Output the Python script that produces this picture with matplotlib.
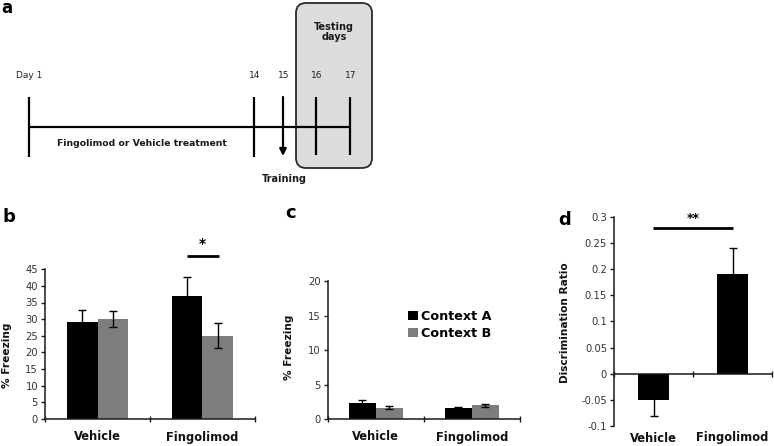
import matplotlib
matplotlib.use('Agg')
import matplotlib.pyplot as plt
import numpy as np
import matplotlib.transforms as mtrans
from matplotlib.patches import FancyBboxPatch, Patch

plt.rcParams['font.family'] = ['DejaVu Sans']

# ---------------- data ----------------
groups = ['Vehicle', 'Fingolimod']
contexts = ['Context A', 'Context B']

b_ctxA = [29, 37]
b_ctxA_err = [3.6, 5.6]
b_ctxB = [30, 25]
b_ctxB_err = [2.3, 3.7]

c_ctxA = [2.4, 1.7]
c_ctxA_err = [0.4, 0.1]
c_ctxB = [1.7, 2.0]
c_ctxB_err = [0.2, 0.2]

d_ratio = [-0.05, 0.19]
d_err = [0.03, 0.05]

b_yticks = [0, 5, 10, 15, 20, 25, 30, 35, 40, 45]
c_yticks = [0, 5, 10, 15, 20]
d_yticks = [-0.1, -0.05, 0, 0.05, 0.1, 0.15, 0.2, 0.25, 0.3]
d_yticklabels = ['-0.1', '-0.05', '0', '0.05', '0.1', '0.15', '0.2', '0.25', '0.3']

timeline_labels = ['Day 1', '14', '15', '16', '17']

# ---------------- layout ----------------
W, H = 774, 446
fig = plt.figure(figsize=(W / 100, H / 100), dpi=100)

ov = fig.add_axes([0, 0, 1, 1])
ov.set_xlim(0, W)
ov.set_ylim(H, 0)
ov.axis('off')


def px_rect(l, t, r, b):
    return [l / W, 1 - b / H, (r - l) / W, (b - t) / H]


axb = fig.add_axes(px_rect(45, 269.3, 255, 418.7))
axc = fig.add_axes(px_rect(327.7, 281, 520, 419.3))
axd = fig.add_axes(px_rect(614, 216.7, 772, 426))

AXC = '#1a1a1a'
TICKC = '#333333'
GRAY = '#7d7d7d'


def style(ax):
    for s in ['top', 'right']:
        ax.spines[s].set_visible(False)
    for s in ['left', 'bottom']:
        ax.spines[s].set_linewidth(1.1)
        ax.spines[s].set_color(AXC)
    ax.tick_params(axis='y', direction='out', length=3, width=1.0,
                   color=AXC, labelsize=7.2, labelcolor=TICKC, pad=2)
    ax.tick_params(axis='x', direction='inout', length=5, width=1.0,
                   color=AXC, labelbottom=False)
    ax.set_xlim(0, len(groups))
    ax.set_xticks(np.arange(len(groups) + 1))
    ax.patch.set_alpha(0)


for ax in (axb, axc, axd):
    style(ax)

x = np.arange(len(groups)) + 0.5

# ---------------- panel b ----------------
wb = 0.286
axb.bar(x - wb / 2, b_ctxA, wb, color='black', zorder=2)
axb.bar(x + wb / 2, b_ctxB, wb, color=GRAY, zorder=2)
axb.errorbar(x - wb / 2, b_ctxA, yerr=b_ctxA_err, fmt='none', ecolor='black',
             elinewidth=1, capsize=2.6, capthick=1, zorder=3)
axb.errorbar(x + wb / 2, b_ctxB, yerr=b_ctxB_err, fmt='none', ecolor='black',
             elinewidth=1, capsize=2.6, capthick=1, zorder=3)
axb.set_ylim(0, 45)
axb.set_yticks(b_yticks)
axb.plot([x[1] - 0.148, x[1] + 0.157], [49, 49], color='black', lw=2,
         clip_on=False, solid_capstyle='butt')
axb.text(x[1], 50.6, '*', ha='center', va='bottom', fontsize=10,
         fontweight='bold', clip_on=False)

# ---------------- panel c ----------------
wc = 0.28
axc.bar(x - wc / 2, c_ctxA, wc, color='black', zorder=2)
axc.bar(x + wc / 2, c_ctxB, wc, color=GRAY, zorder=2)
axc.errorbar(x - wc / 2, c_ctxA, yerr=c_ctxA_err, fmt='none', ecolor='black',
             elinewidth=1, capsize=2.6, capthick=1, zorder=3)
axc.errorbar(x + wc / 2, c_ctxB, yerr=c_ctxB_err, fmt='none', ecolor='black',
             elinewidth=1, capsize=2.6, capthick=1, zorder=3)
axc.set_ylim(0, 20)
axc.set_yticks(c_yticks)
handles = [Patch(facecolor='black', edgecolor='none'),
           Patch(facecolor=GRAY, edgecolor='none')]
axc.legend(handles, contexts, loc='upper left', bbox_to_anchor=(0.42, 0.79),
           frameon=False, handlelength=0.75, handleheight=0.75,
           handletextpad=0.2, labelspacing=0.3, borderpad=0,
           borderaxespad=0, prop={'weight': 'bold', 'size': 9.2})

# ---------------- panel d ----------------
wd = 0.405
axd.bar(x, d_ratio, wd, color='black', zorder=2)
axd.errorbar(x, d_ratio, yerr=d_err, fmt='none', ecolor='black',
             elinewidth=1, capsize=2.6, capthick=1, zorder=3)
axd.set_ylim(-0.1, 0.3)
axd.set_yticks(d_yticks)
axd.set_yticklabels(d_yticklabels)
axd.spines['bottom'].set_position(('data', 0))
axd.plot([x[0] - 0.01, x[1] + 0.006], [0.279, 0.279], color='black', lw=2,
         clip_on=False, solid_capstyle='butt')
axd.text(np.mean(x), 0.284, '**', ha='center', va='bottom', fontsize=9,
         fontweight='bold', clip_on=False)

# category labels
for ax, ypx in ((axb, 437), (axc, 437), (axd, 438)):
    tr = mtrans.blended_transform_factory(ax.transData, fig.transFigure)
    for xi, g in zip(x, groups):
        ax.text(xi, 1 - ypx / H, g, transform=tr, ha='center', va='center',
                fontsize=8.3, fontweight='bold', color='#111111')

# y labels
ov.text(7, 355, '% Freezing', rotation=90, ha='center', va='center',
        fontsize=7.6, fontweight='bold', color='#111111')
ov.text(289, 347, '% Freezing', rotation=90, ha='center', va='center',
        fontsize=7.6, fontweight='bold', color='#111111')
ov.text(565, 323, 'Discrimination Ratio', rotation=90, ha='center',
        va='center', fontsize=7.6, fontweight='bold', color='#111111')

# panel letters
for lx, ly, s, fs in ((1, 13, 'a', 12), (2, 222, 'b', 13),
                      (285, 218, 'c', 13), (558, 225, 'd', 13)):
    ov.text(lx, ly, s, ha='left', va='baseline', fontsize=fs,
            fontweight='bold', color='black')

# ---------------- panel a (schematic timeline) ----------------
tl_x = [29, 254, 283, 316, 350]
box = FancyBboxPatch((296, 3), 76, 165,
                     boxstyle='round,pad=0,rounding_size=10',
                     facecolor='#dcdcdc', edgecolor='#2a2a2a', lw=1.3,
                     zorder=1)
ov.add_patch(box)
ov.text(334, 27, 'Testing', ha='center', va='center', fontsize=7,
        fontweight='bold', color='#1a1a1a')
ov.text(334, 37.5, 'days', ha='center', va='center', fontsize=7,
        fontweight='bold', color='#1a1a1a')

ov.plot([tl_x[0], tl_x[-1]], [127, 127], color='black', lw=1.6, zorder=2,
        solid_capstyle='butt')
for i, (xx, lab) in enumerate(zip(tl_x, timeline_labels)):
    ov.text(xx + (1 if i else 0), 75, lab, ha='center', va='center',
            fontsize=6.5, color='#222222')
    if i == 2:
        ov.annotate('', xy=(xx, 156), xytext=(xx, 97),
                    arrowprops=dict(arrowstyle='-|>', color='black', lw=1.6,
                                    mutation_scale=10, shrinkA=0, shrinkB=0),
                    zorder=3)
    else:
        bot = 157 if i < 2 else 155
        ov.plot([xx, xx], [97, bot], color='black', lw=1.6, zorder=2,
                solid_capstyle='butt')

ov.text(142, 143, 'Fingolimod or Vehicle treatment', ha='center',
        va='center', fontsize=6.7, fontweight='bold', color='#1a1a1a')
ov.text(284, 179, 'Training', ha='center', va='center', fontsize=7,
        fontweight='bold', color='#1a1a1a')

fig.savefig('out.png', dpi=100)
